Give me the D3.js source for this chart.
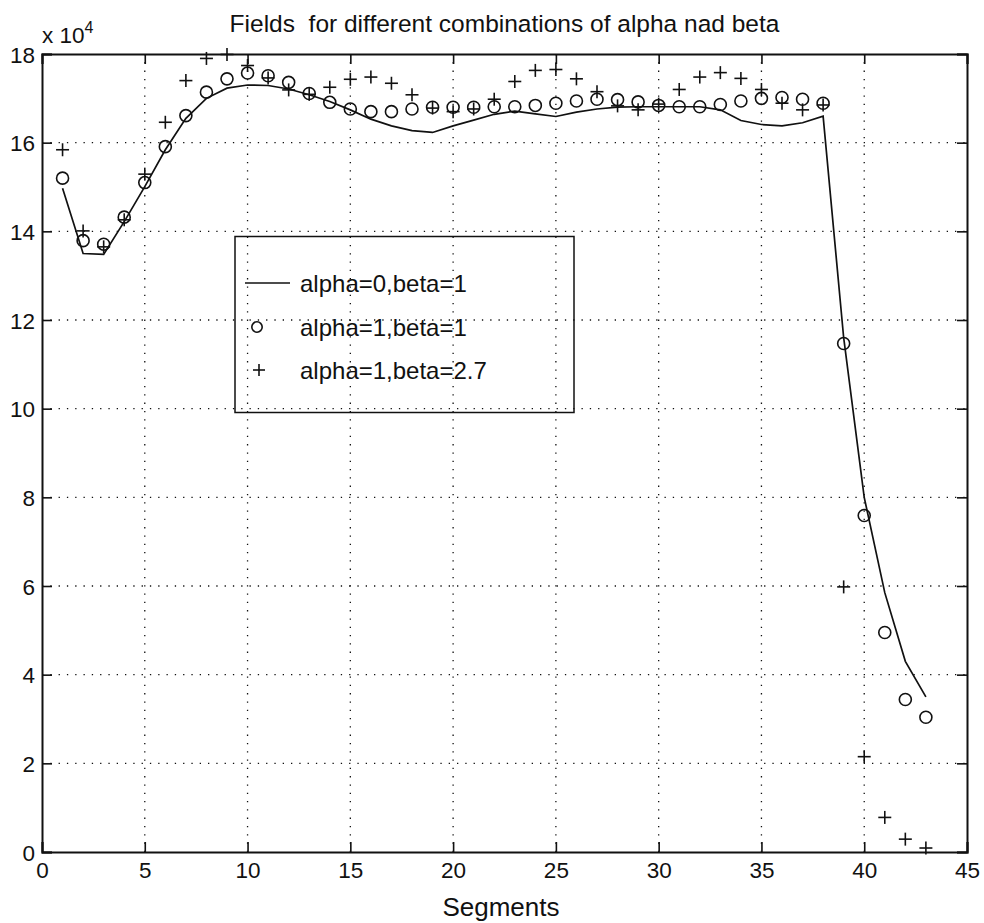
<!DOCTYPE html>
<html>
<head>
<meta charset="utf-8">
<script src="https://cdn.jsdelivr.net/npm/d3@7"></script>
<style>
  html, body { margin: 0; padding: 0; background: #fff; }
  svg { display: block; }
  text { font-family: "Liberation Sans", Arial, Helvetica, sans-serif; fill: #111; }
</style>
</head>
<body>
<svg id="chart" width="984" height="923"></svg>
<script>
// Segment numbers along the x axis
const segments = [1,2,3,4,5,6,7,8,9,10,11,12,13,14,15,16,17,18,19,20,21,22,23,24,25,26,27,28,29,30,31,32,33,34,35,36,37,38,39,40,41,42,43];

// Fields (x 10^4) for each parameter combination
const fieldA0B1 = [14.97,13.50,13.48,14.22,15.01,15.84,16.55,17.00,17.23,17.30,17.29,17.21,17.08,16.93,16.74,16.53,16.38,16.27,16.23,16.38,16.51,16.64,16.71,16.65,16.59,16.69,16.76,16.80,16.81,16.81,16.81,16.81,16.74,16.50,16.41,16.38,16.45,16.60,11.60,8.00,5.85,4.30,3.50];
const fieldA1B1 = [15.20,13.79,13.71,14.32,15.10,15.91,16.61,17.14,17.44,17.57,17.51,17.36,17.11,16.91,16.76,16.70,16.70,16.76,16.80,16.80,16.80,16.81,16.81,16.84,16.89,16.94,16.98,16.97,16.92,16.84,16.81,16.81,16.86,16.94,17.00,17.02,16.98,16.89,11.47,7.59,4.95,3.44,3.04];
const fieldA1B27 = [15.84,14.01,13.65,14.26,15.29,16.46,17.40,17.90,17.99,17.74,17.46,17.19,17.09,17.25,17.43,17.48,17.34,17.08,16.78,16.70,16.76,16.98,17.38,17.63,17.65,17.44,17.15,16.83,16.74,16.87,17.20,17.48,17.58,17.45,17.20,16.89,16.74,16.85,5.98,2.15,0.78,0.29,0.09];

// Axis ticks
const xTicks = [0,5,10,15,20,25,30,35,40,45];
const yTicks = [0,2,4,6,8,10,12,14,16,18];

// Legend labels
const seriesLabels = ["alpha=0,beta=1", "alpha=1,beta=1", "alpha=1,beta=2.7"];
const titleText = "Fields  for different combinations of alpha nad beta";
const xLabel = "Segments";

const svg = d3.select("#chart");
const ink = "#111";
const m = { left: 42, top: 54, right: 967, bottom: 852 };

const x = d3.scaleLinear().domain([0, 45]).range([m.left, m.right]);
const y = d3.scaleLinear().domain([0, 18]).range([m.bottom, m.top]);

// Dotted grid
const grid = svg.append("g").attr("stroke", ink).attr("stroke-width", 1.3)
  .attr("stroke-dasharray", "1.3,7").attr("fill", "none");
grid.selectAll("line.gx").data(xTicks.slice(1, -1)).join("line")
  .attr("x1", d => x(d)).attr("x2", d => x(d)).attr("y1", m.top).attr("y2", m.bottom);
grid.selectAll("line.gy").data(yTicks.slice(1, -1)).join("line")
  .attr("y1", d => y(d)).attr("y2", d => y(d)).attr("x1", m.left).attr("x2", m.right);

// Axes with inward ticks on all four sides
const tickLen = 10;
const fmt = d => String(d);
const axB = svg.append("g").attr("transform", `translate(0,${m.bottom})`)
  .call(d3.axisBottom(x).tickValues(xTicks).tickSize(-tickLen).tickPadding(10).tickFormat(fmt));
const axT = svg.append("g").attr("transform", `translate(0,${m.top})`)
  .call(d3.axisTop(x).tickValues(xTicks).tickSize(-tickLen).tickFormat(""));
const axL = svg.append("g").attr("transform", `translate(${m.left},0)`)
  .call(d3.axisLeft(y).tickValues(yTicks).tickSize(-tickLen).tickPadding(7).tickFormat(fmt));
const axR = svg.append("g").attr("transform", `translate(${m.right},0)`)
  .call(d3.axisRight(y).tickValues(yTicks).tickSize(-tickLen).tickFormat(""));
[axB, axT, axL, axR].forEach(a => {
  a.select(".domain").attr("stroke", ink).attr("stroke-width", 2);
  a.selectAll(".tick line").attr("stroke", ink).attr("stroke-width", 1.6);
  a.selectAll(".tick text").attr("font-size", 22.5).attr("fill", ink)
    .attr("font-family", '"Liberation Sans", Arial, sans-serif');
});
axB.selectAll(".tick text").attr("dy", "0.71em");
axL.selectAll(".tick text").attr("dy", "0.36em");

// Series: solid line, circles, plus markers
const pts = (vals) => segments.map((s, i) => [s, vals[i]]);
svg.append("path")
  .datum(pts(fieldA0B1))
  .attr("fill", "none").attr("stroke", ink).attr("stroke-width", 1.7)
  .attr("d", d3.line().x(d => x(d[0])).y(d => y(d[1])));

svg.append("g").selectAll("circle").data(pts(fieldA1B1)).join("circle")
  .attr("cx", d => x(d[0])).attr("cy", d => y(d[1])).attr("r", 6)
  .attr("fill", "none").attr("stroke", ink).attr("stroke-width", 1.6);

const plus = (g, cx, cy, h) => {
  g.append("line").attr("x1", cx - h).attr("x2", cx + h).attr("y1", cy).attr("y2", cy);
  g.append("line").attr("x1", cx).attr("x2", cx).attr("y1", cy - h).attr("y2", cy + h);
};
const plusG = svg.append("g").attr("stroke", ink).attr("stroke-width", 1.6);
pts(fieldA1B27).forEach(d => plus(plusG, x(d[0]), y(d[1]), 6.5));

// Legend (transparent box, grid shows through)
const lg = svg.append("g");
lg.append("rect").attr("x", 235).attr("y", 236.5).attr("width", 339).attr("height", 176)
  .attr("fill", "none").attr("stroke", ink).attr("stroke-width", 1.5);
const rowY = [283, 327, 370];
lg.append("line").attr("x1", 245).attr("x2", 290).attr("y1", rowY[0]).attr("y2", rowY[0])
  .attr("stroke", ink).attr("stroke-width", 1.7);
lg.append("circle").attr("cx", 257).attr("cy", rowY[1]).attr("r", 5.2)
  .attr("fill", "none").attr("stroke", ink).attr("stroke-width", 1.6);
const lp = lg.append("g").attr("stroke", ink).attr("stroke-width", 1.6);
plus(lp, 259, rowY[2], 6);
lg.selectAll("text").data(seriesLabels).join("text")
  .attr("x", 300).attr("y", (d, i) => rowY[i]).attr("dy", "0.36em")
  .attr("font-size", 24).text(d => d);

// Title, x label and exponent
svg.append("text").attr("x", (m.left + m.right) / 2).attr("y", 32)
  .attr("text-anchor", "middle").attr("font-size", 24.5)
  .style("white-space", "pre").text(titleText);
svg.append("text").attr("x", 501).attr("y", 916)
  .attr("text-anchor", "middle").attr("font-size", 26).text(xLabel);
const ex = svg.append("text").attr("x", 42).attr("y", 43).attr("font-size", 22.5);
ex.append("tspan").text("x 10");
ex.append("tspan").attr("font-size", 16).attr("dy", -10).text("4");
</script>
</body>
</html>
